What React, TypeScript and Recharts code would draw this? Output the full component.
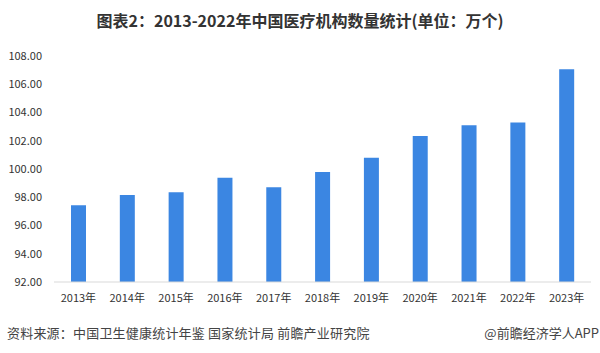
import { BarChart, Bar, XAxis, YAxis } from "recharts"

const years = ["2013年", "2014年", "2015年", "2016年", "2017年", "2018年", "2019年", "2020年", "2021年", "2022年", "2023年"]
const counts = [97.44, 98.16, 98.36, 99.38, 98.7, 99.78, 100.8, 102.33, 103.09, 103.3, 107.07]
const yTicks = [92, 94, 96, 98, 100, 102, 104, 106, 108]

const data = years.map((year, i) => ({ year, count: counts[i] }))

const font = "'Noto Sans CJK SC', 'Noto Sans', sans-serif"

export default function App() {
  return (
    <div
      style={{
        position: "fixed",
        top: 0,
        left: 0,
        width: 600,
        height: 353,
        background: "#fff",
        fontFamily: font,
      }}
    >
      <div
        style={{
          position: "absolute",
          top: 9,
          left: 0,
          width: 600,
          textAlign: "center",
          fontSize: 16,
          lineHeight: "23px",
          fontWeight: "bold",
          color: "#333",
        }}
      >
        图表2：2013-2022年中国医疗机构数量统计(单位：万个)
      </div>
      <BarChart width={600} height={353} data={data} margin={{ top: 56, right: 9, left: 0, bottom: 41 }}>
        <XAxis
          dataKey="year"
          height={30}
          tick={{ fill: "#333", fontSize: 11, fontFamily: font }}
          axisLine={{ stroke: "#d9d9d9" }}
          tickLine={false}
          tickMargin={6}
        />
        <YAxis
          domain={[92, 108]}
          ticks={yTicks}
          width={54}
          tick={{ fill: "#333", fontSize: 11, fontFamily: font }}
          tickFormatter={(v) => v.toFixed(2)}
          axisLine={false}
          tickLine={false}
          tickMargin={6}
        />
        <Bar dataKey="count" fill="#3b86e2" barSize={15} isAnimationActive={false} />
      </BarChart>
      <div
        style={{
          position: "absolute",
          top: 323,
          left: 7,
          fontSize: 13,
          lineHeight: "19px",
          letterSpacing: 0.2,
          color: "#444",
        }}
      >
        资料来源：中国卫生健康统计年鉴 国家统计局 前瞻产业研究院
      </div>
      <div
        style={{
          position: "absolute",
          top: 323,
          right: 1,
          fontSize: 13,
          lineHeight: "19px",
          color: "#444",
        }}
      >
        @前瞻经济学人APP
      </div>
    </div>
  )
}
